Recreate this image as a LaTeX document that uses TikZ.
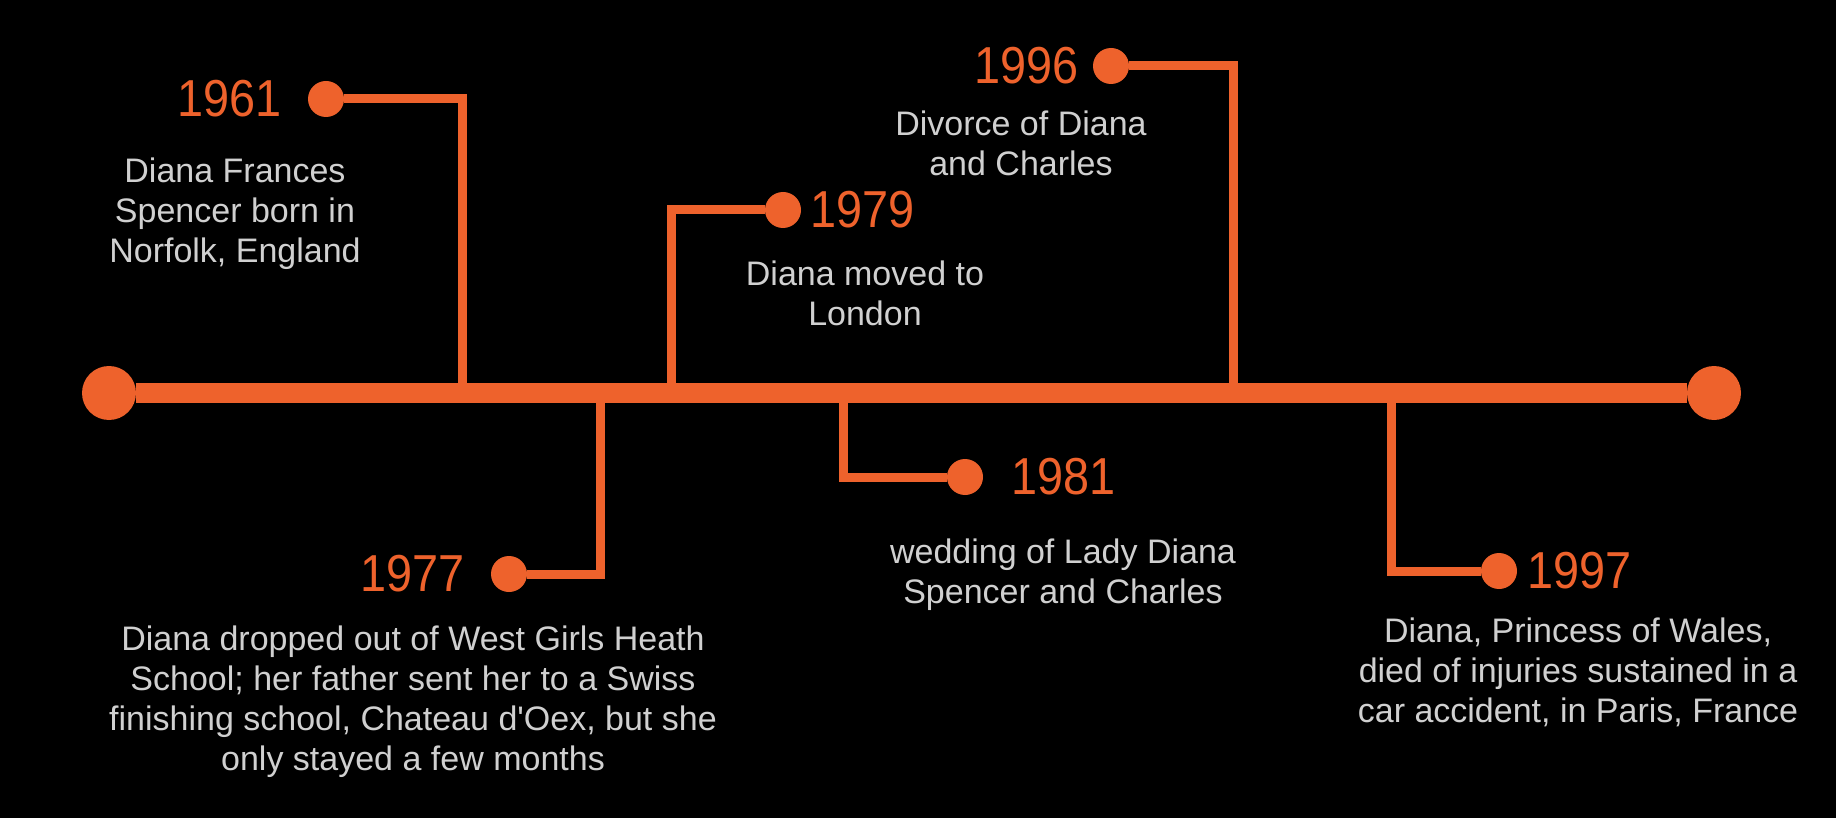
\documentclass[tikz,border=0pt]{standalone}
\usepackage{fontspec}
\setmainfont{Liberation Sans}
\newfontfamily\yearfont[FakeStretch=0.9]{Liberation Sans}
\usetikzlibrary{positioning}
\definecolor{tlorange}{RGB}{238,98,44}
\definecolor{tlgray}{RGB}{208,208,208}

\begin{document}
\begin{tikzpicture}[x=0.5pt, y=-0.5pt,
                spine/.style={line width=10pt, tlorange},
                branch/.style={line width=4.5pt, tlorange},
                bigdot/.style={circle, fill=tlorange, minimum size=27pt, inner sep=0pt},
                eventdot/.style={circle, fill=tlorange, minimum size=18pt, inner sep=0pt},
                year/.style={text=tlorange, inner sep=0pt, font=\yearfont\fontsize{26}{26}\selectfont},
                desc/.style={text=tlgray, align=center, anchor=north, inner sep=0pt,
                             font=\fontsize{17}{20}\selectfont}]

                % background, gives the page its size
                \fill[black] (0,0) rectangle (1836,818);

                % points where the events leave the time line
                \coordinate (b61) at (462,393);
                \coordinate (b77) at (600,393);
                \coordinate (b79) at (671,393);
                \coordinate (b81) at (843,393);
                \coordinate (b96) at (1233,393);
                \coordinate (b97) at (1391,393);

                % Events above the line
                \node[eventdot] (d61) at (326,99) {};
                \node[year, left=13pt of d61] (y61) {1961};
                \node[desc] (t61) at (235,157) {Diana Frances\\Spencer born in\\Norfolk, England};

                \node[eventdot] (d79) at (783,210) {};
                \node[year, right=4.5pt of d79] (y79) {1979};
                \node[desc] (t79) at (865,260) {Diana moved to\\London};

                \node[eventdot] (d96) at (1111,66) {};
                \node[year, left=7pt of d96] (y96) {1996};
                \node[desc] (t96) at (1021,110) {Divorce of Diana\\and Charles};

                % Events below the line
                \node[eventdot] (d77) at (509,574) {};
                \node[year, left=13pt of d77] (y77) {1977};
                \node[desc] (t77) at (413,625) {Diana dropped out of West Girls Heath\\School; her father sent her to a Swiss\\finishing school, Chateau d\textquotesingle Oex, but she\\only stayed a few months};

                \node[eventdot] (d81) at (965,477) {};
                \node[year, right=14pt of d81] (y81) {1981};
                \node[desc] (t81) at (1063,538) {wedding of Lady Diana\\Spencer and Charles};

                \node[eventdot] (d97) at (1499,571) {};
                \node[year, right=5pt of d97] (y97) {1997};
                \node[desc] (t97) at (1578,617) {Diana, Princess of Wales,\\died of injuries sustained in a\\car accident, in Paris, France};

                % branches to the line
                \draw[branch] (d61) -| (b61);
                \draw[branch] (d79) -| (b79);
                \draw[branch] (d96) -| (b96);
                \draw[branch] (d77) -| (b77);
                \draw[branch] (d81) -| (b81);
                \draw[branch] (d97) -| (b97);

                % main time line
                \node[bigdot] (start) at (109,393) {};
                \node[bigdot] (end) at (1714,393) {};
                \draw[spine] (start) -- (end);
\end{tikzpicture}
\end{document}
